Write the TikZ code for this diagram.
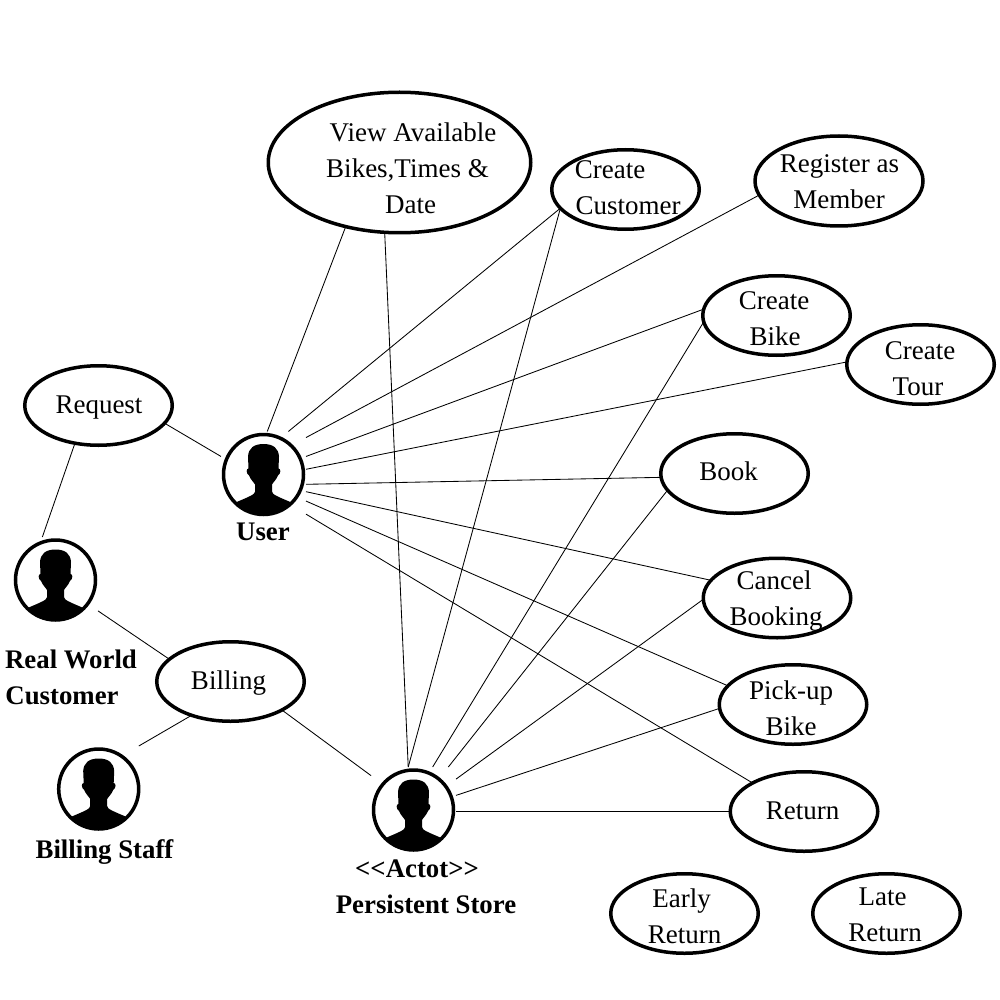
\documentclass[tikz,border=0pt]{standalone}
\usepackage{fontspec}
\setmainfont{Liberation Serif}
\usetikzlibrary{shapes.geometric}
\newcommand\uctext[2]{\raisebox{\dimexpr #1pt-1pt\relax}[0pt][0pt]{\begin{tabular}[t]{@{}c@{}}#2\end{tabular}}}
\newcommand\lne[2]{\makebox[0pt]{\kern\dimexpr 2\dimexpr #1pt\relax\relax #2}}
\tikzset{
  uc/.style={ellipse,draw=black,line width=3.5pt,inner sep=0pt,outer sep=0pt,
    minimum width=147.5pt,minimum height=79.5pt,
    font=\fontsize{27}{36}\selectfont},
  ucbig/.style={uc,minimum width=262.5pt,minimum height=140.5pt},
  ucreg/.style={uc,minimum width=168pt,minimum height=90pt},
  actor/.style={rectangle,inner sep=0pt,outer sep=0pt,minimum width=85pt,minimum height=86pt,
    path picture={
      \begin{scope}[shift={(path picture bounding box.center)}]
        \draw[black,line width=3.5pt] (0,0) circle[radius=40pt];
        \begin{scope}
          \clip (0,0) circle[radius=40pt];
          \fill[black] (0,-30.5) .. controls (-10,-30.5) and (-15,-26) .. (-15.5,-18)
            -- (-15,-6) .. controls (-17.5,-6) and (-17.5,-1) .. (-14.5,1)
            .. controls (-13,5) and (-9.5,8) .. (-8.5,10) -- (-8.5,17)
            .. controls (-8.5,20) and (-14,22) .. (-28,28) -- (-28,50) -- (28,50) -- (28,28)
            .. controls (14,22) and (8.5,20) .. (8.5,17) -- (8.5,10)
            .. controls (9.5,8) and (13,5) .. (14.5,1)
            .. controls (17.5,-1) and (17.5,-6) .. (15,-6) -- (15.5,-18)
            .. controls (15,-26) and (10,-30.5) .. (0,-30.5) -- cycle;
        \end{scope}
      \end{scope}
    }},
  lbl/.style={inner sep=0pt,outer sep=0pt,font=\fontsize{26.8}{36}\selectfont\bfseries},
  conn/.style={black,line width=0.85pt}
}
\begin{document}
\begin{tikzpicture}[x=1pt,y=-1pt]
\useasboundingbox (0,0) rectangle (1000,1000);
\fill[white] (0,0) rectangle (1000,1000);

% use cases
\node[ucbig] (view) at (399.5,162.5) {\uctext{21.5}{\lne{13.5}{View Available}\\\lne{8}{Bikes,Times \&}\\\lne{11}{Date}}};
\node[uc] (ccust) at (625.5,189.5) {\uctext{11.5}{\lne{-15.5}{Create}\\\lne{2.5}{Customer}}};
\node[ucreg] (reg) at (839,181) {\uctext{9}{\lne{0.5}{Register as}\\\lne{0}{Member}}};
\node[uc] (cbike) at (776.5,315.5) {\uctext{7.5}{\lne{-2.5}{Create}\\\lne{-1.5}{Bike}}};
\node[uc] (ctour) at (920.5,364.5) {\uctext{6.5}{\lne{-0.5}{Create}\\\lne{-2.5}{Tour}}};
\node[uc] (book) at (734.5,473.5) {\uctext{-5.5}{\lne{-6}{Book}}};
\node[uc] (cancel) at (777,598) {\uctext{10}{\lne{-3}{Cancel}\\\lne{-1}{Booking}}};
\node[uc] (pick) at (793,704.5) {\uctext{6.5}{\lne{-2}{Pick-up}\\\lne{-2}{Bike}}};
\node[uc] (ret) at (804,811.5) {\uctext{-6.5}{\lne{-1.5}{Return}}};
\node[uc] (early) at (684.5,913.5) {\uctext{7.5}{\lne{-3}{Early}\\\lne{0}{Return}}};
\node[uc] (late) at (886.5,913.5) {\uctext{9.5}{\lne{-4}{Late}\\\lne{-1.5}{Return}}};
\node[uc] (request) at (98.5,405.5) {\uctext{-6.5}{\lne{0.5}{Request}}};
\node[uc] (billing) at (230.5,681.5) {\uctext{-6.5}{\lne{-2}{Billing}}};

% actors
\node[actor] (user) at (263.5,474.5) {};
\node[actor] (real) at (55.5,580) {};
\node[actor] (staff) at (98.7,789) {};
\node[actor] (store) at (413.5,810) {};

% actor labels
\node[lbl] (userlbl) at (263,539) {\uctext{0}{\lne{0}{User}}};
\node[lbl] (reallbl) at (66,667) {\uctext{0}{\lne{5}{Real World}\\\lne{-4}{Customer}}};
\node[lbl] (stafflbl) at (104.5,857) {\uctext{0}{\lne{0}{Billing Staff}}};
\node[lbl] (storelbl) at (421,876) {\uctext{0}{\lne{-4}{<{}<Actot>{}>}\\\lne{5}{Persistent Store}}};

% connectors from User
\draw[conn] (user.85.8) -- (view.230.7);
\draw[conn] (user.60.5) -- (ccust.196.3);
\draw[conn] (user.41.2) -- (reg.190.1);
\draw[conn] (user.23.9) -- (cbike.175.2);
\draw[conn] (user.7) -- (ctour.178.6);
\draw[conn] (user.-13) -- (book.183.7);
\draw[conn] (user.-22.7) -- (cancel.165.9);
\draw[conn] (user.-32.6) -- (pick.164.2);
\draw[conn] (user.-43.1) -- (ret.151.6);
\draw[conn] (user.157.3) -- (request.-15.2);

% connectors from Persistent Store
\draw[conn] (store.97) -- (view.258);
\draw[conn] (store.97) -- (ccust.196.3);
\draw[conn] (store.66.7) -- (cbike.185.5);
\draw[conn] (store.51.9) -- (book.194.8);
\draw[conn] (store.36.1) -- (cancel.181.5);
\draw[conn] (store.19.4) -- (pick.183.4);
\draw[conn] (store.-2) -- (ret.180);
\draw[conn] (store.141.5) -- (billing.-29.8);

% other connectors
\draw[conn] (real.107) -- (request.238.2);
\draw[conn] (real.-36.5) -- (billing.160.3);
\draw[conn] (staff.47.6) -- (billing.221.5);
\end{tikzpicture}
\end{document}
